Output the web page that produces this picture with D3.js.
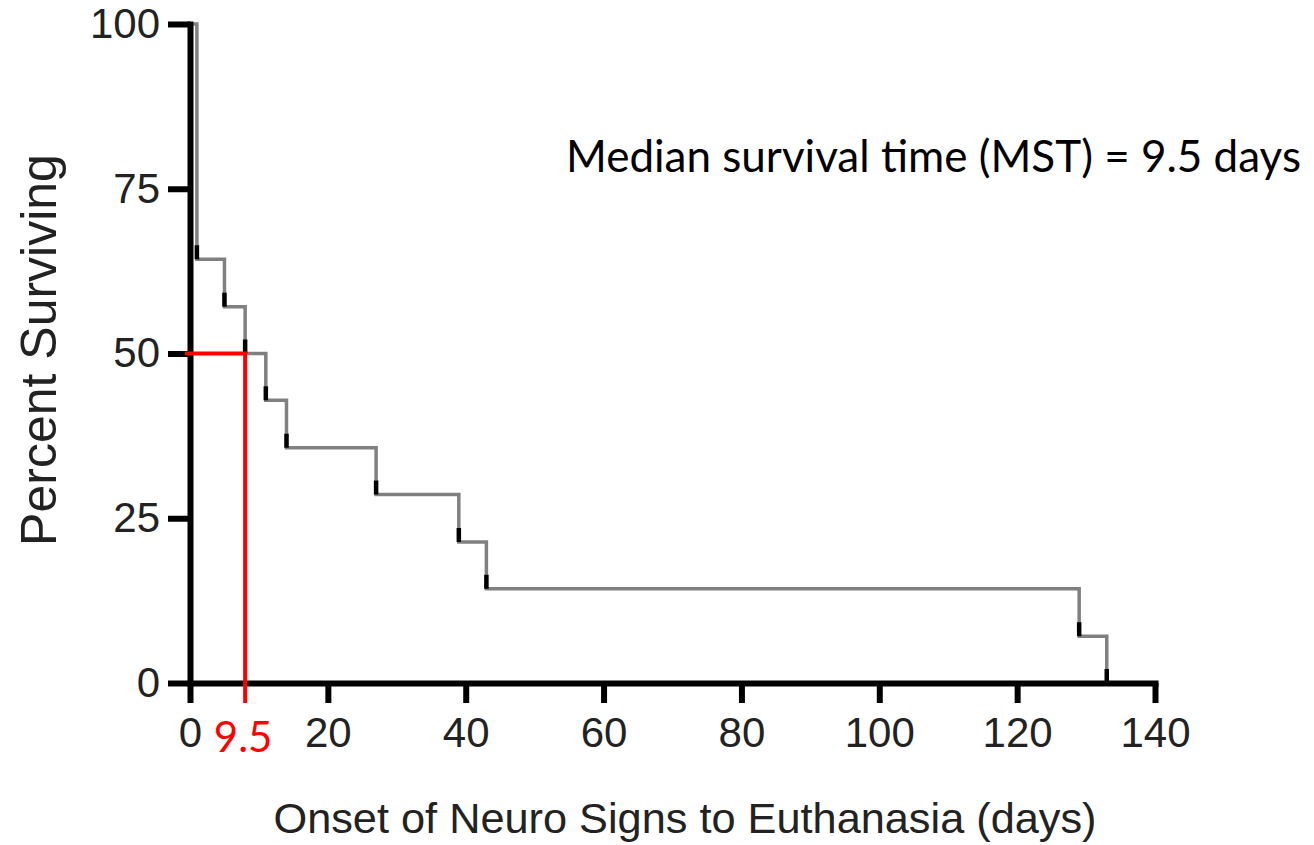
<!DOCTYPE html>
<html>
<head>
<meta charset="utf-8">
<script src="https://cdn.jsdelivr.net/npm/d3@7"></script>
<style>
  body{margin:0;background:#fff;}
  svg{display:block;}
</style>
</head>
<body>
<svg id="chart" width="1314" height="845"></svg>
<script>
// Kaplan-Meier steps: day of each drop and % surviving after it
const eventDays = [1, 5, 8, 11, 14, 27, 39, 43, 129, 133];
const survivalAfter = [64.3, 57.1, 50, 42.9, 35.7, 28.6, 21.4, 14.3, 7.1, 0];
const xTicks = [0, 20, 40, 60, 80, 100, 120, 140];
const yTicks = [0, 25, 50, 75, 100];
const medianDay = 8;          // where the red marker sits in the picture
const medianLabel = "9.5";
const medianPct = 50;
const noteText = "Median survival time (MST) = 9.5 days";

const svg = d3.select("#chart");
const x = d3.scaleLinear().domain([0, 140]).range([190, 1155]);
const y = d3.scaleLinear().domain([0, 100]).range([683, 24]);

const arial = "'Liberation Sans', Arial, sans-serif";

// step path
let pts = [[0, 100]];
let prev = 100;
eventDays.forEach((d, i) => {
  pts.push([d, prev]);
  pts.push([d, survivalAfter[i]]);
  prev = survivalAfter[i];
});
const line = d3.line().x(d => x(d[0])).y(d => y(d[1]));

svg.append("path")
  .attr("d", line(pts))
  .attr("fill", "none")
  .attr("stroke", "#808080")
  .attr("stroke-width", 3.5);

// black tick at the foot of each drop
svg.selectAll(".drop").data(eventDays).join("line")
  .attr("class", "drop")
  .attr("x1", d => x(d)).attr("x2", d => x(d))
  .attr("y1", (d, i) => y(survivalAfter[i]) - 14)
  .attr("y2", (d, i) => y(survivalAfter[i]))
  .attr("stroke", "#000").attr("stroke-width", 4.5);

// axes
const yAxis = svg.append("g").attr("transform", "translate(190,0)")
  .call(d3.axisLeft(y).tickValues(yTicks).tickSize(22).tickSizeOuter(0).tickPadding(8));
const xAxis = svg.append("g").attr("transform", "translate(0,683)")
  .call(d3.axisBottom(x).tickValues(xTicks).tickSize(20).tickSizeOuter(0).tickPadding(14));

[yAxis, xAxis].forEach(g => {
  g.select(".domain").attr("stroke", "#000").attr("stroke-width", 6).attr("stroke-linecap", "square");
  g.selectAll(".tick line").attr("stroke", "#000").attr("stroke-width", 6);
  g.selectAll(".tick text").attr("fill", "#222").style("font-family", arial).style("font-size", "42px");
});

// red median marker
svg.append("path")
  .attr("d", d3.line()([[x(0) - 5, y(medianPct)], [x(medianDay), y(medianPct)], [x(medianDay), y(0) + 20]]))
  .attr("fill", "none")
  .attr("stroke", "#ff0000")
  .attr("stroke-width", 4);

svg.append("text")
  .attr("x", x(medianDay) - 2).attr("y", 752)
  .attr("text-anchor", "middle")
  .attr("fill", "#ff0000")
  .style("font-family", "Lato, 'Open Sans', sans-serif")
  .style("font-size", "42px")
  .text(medianLabel);

// titles
svg.append("text")
  .attr("transform", "translate(56,350) rotate(-90)")
  .attr("text-anchor", "middle")
  .attr("fill", "#222")
  .style("font-family", arial).style("font-size", "50px")
  .text("Percent Surviving");

svg.append("text")
  .attr("x", 685).attr("y", 833)
  .attr("text-anchor", "middle")
  .attr("fill", "#222")
  .style("font-family", arial).style("font-size", "43.3px")
  .text("Onset of Neuro Signs to Euthanasia (days)");

svg.append("text")
  .attr("x", 566).attr("y", 172)
  .attr("fill", "#000")
  .style("font-family", "Lato, 'Open Sans', sans-serif")
  .style("font-size", "44px")
  .text(noteText);
</script>
</body>
</html>
